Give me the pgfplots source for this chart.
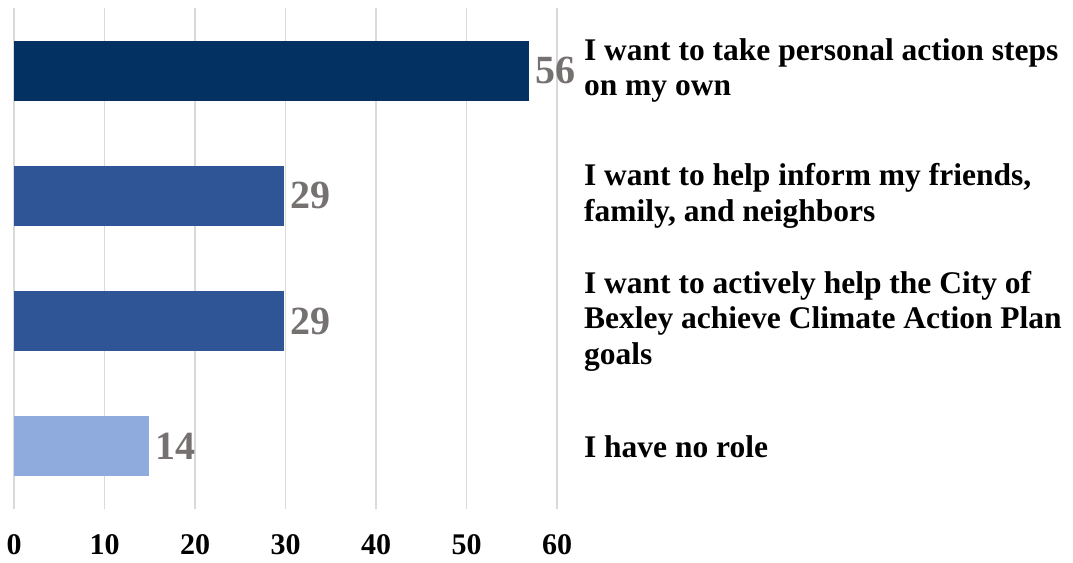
\documentclass[border=0pt]{standalone}
\usepackage{pgfplots}
\pgfplotsset{compat=1.18}
\usepackage{fontspec}
\setmainfont{Liberation Serif}
\definecolor{navy}{RGB}{3,49,98}
\definecolor{midblue}{RGB}{47,85,151}
\definecolor{lightblue}{RGB}{143,170,220}
\definecolor{valgrey}{RGB}{118,113,113}
\definecolor{gridgrey}{RGB}{217,217,217}
\begin{document}
\begin{tikzpicture}
\begin{axis}[
  scale only axis,
  width=271.4pt, height=250.5pt,
  xbar, bar width=0.48, bar shift=0pt,
  xmin=0, xmax=60,
  ymin=-0.5, ymax=3.5,
  y dir=reverse,
  xtick={0,10,...,60},
  ytick={0,1,2,3},
  yticklabels={
    {I want to take personal action steps\\on my own},
    {I want to help inform my friends,\\family, and neighbors},
    {I want to actively help the City of\\Bexley achieve Climate Action Plan\\goals},
    {I have no role}},
  yticklabel pos=right,
  y tick label style={font=\fontsize{15.75}{17.75}\selectfont\bfseries, align=left, anchor=west, xshift=10pt},
  x tick label style={font=\fontsize{15}{15}\selectfont\bfseries, yshift=-9pt},
  /pgf/number format/assume math mode=true,
  xmajorgrids,
  grid style={gridgrey, line width=0.75pt},
  axis line style={draw=none},
  major tick length=0pt,
  point meta=explicit symbolic,
  nodes near coords,
  nodes near coords style={font=\fontsize{20}{20}\selectfont\bfseries, text=valgrey, anchor=west, inner sep=3pt},
  clip=false,
]
\addplot[fill=navy, draw=none] coordinates {(56.9,0) [56]};
\addplot[fill=midblue, draw=none] coordinates {(29.8,1) [29]};
\addplot[fill=midblue, draw=none] coordinates {(29.8,2) [29]};
\addplot[fill=lightblue, draw=none] coordinates {(14.9,3) [14]};
\end{axis}
\pgfresetboundingbox
\path[use as bounding box] ([xshift=-7.1pt,yshift=-27pt]current axis.south west) rectangle ([xshift=258pt,yshift=4pt]current axis.north east);
\end{tikzpicture}
\end{document}
